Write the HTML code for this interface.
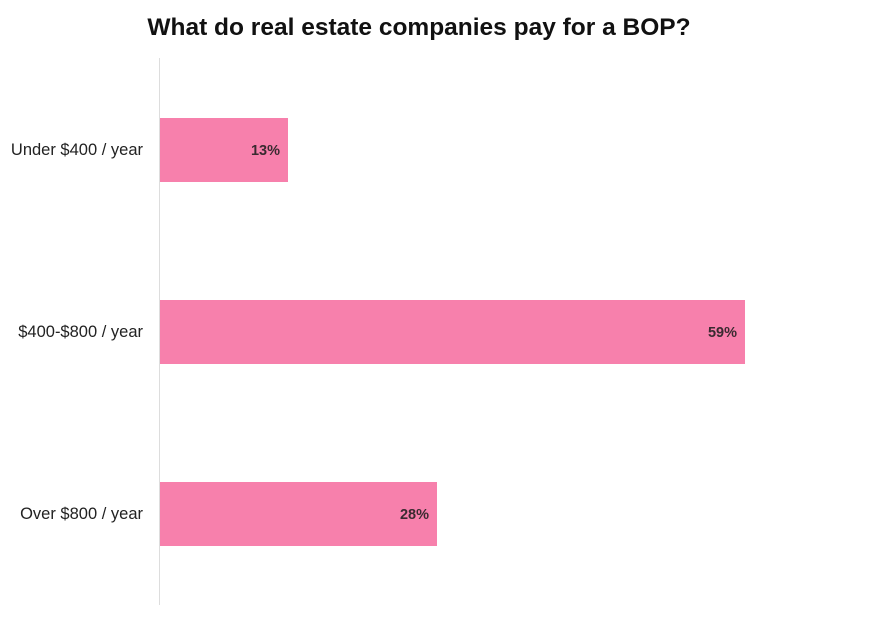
<!DOCTYPE html>
<html><head><meta charset="utf-8"><style>
body{margin:0;width:874px;height:620px;background:#fff;position:relative;overflow:hidden;font-family:"Liberation Sans",sans-serif}
.t{position:absolute;left:0;width:838px;top:14px;text-align:center;font-weight:bold;font-size:24.5px;color:#111}
.ax{position:absolute;left:159px;top:58px;width:1px;height:547px;background:#ddd}
.b{position:absolute;left:160px;height:64px;background:#f780ac}
.v{position:absolute;right:8px;top:1px;line-height:64px;font-weight:bold;font-size:14.5px;color:#3a2a30}
.l{position:absolute;right:731px;font-size:16.5px;color:#222;line-height:20px}
</style></head><body>
<div class="t">What do real estate companies pay for a BOP?</div>
<div class="ax"></div>
<div class="b" style="top:118px;width:128px"><span class="v">13%</span></div>
<div class="b" style="top:300px;width:585px"><span class="v">59%</span></div>
<div class="b" style="top:482px;width:277px"><span class="v">28%</span></div>
<div class="l" style="top:140px">Under $400 / year</div>
<div class="l" style="top:322px">$400-$800 / year</div>
<div class="l" style="top:504px">Over $800 / year</div>
</body></html>
